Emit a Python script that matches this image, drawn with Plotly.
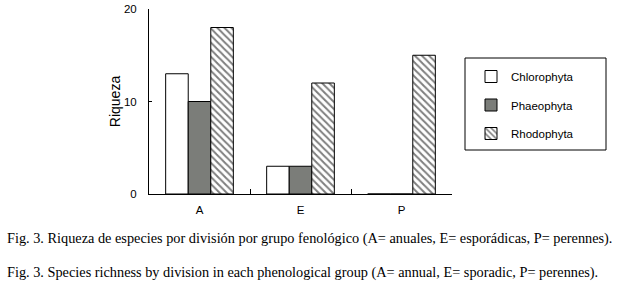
import plotly.graph_objects as go

categories = ["A", "E", "P"]
chlorophyta = [13, 3, 0]
phaeophyta = [10, 3, 0]
rhodophyta = [18, 12, 15]
series_names = ["Chlorophyta", "Phaeophyta", "Rhodophyta"]
y_ticks = [0, 10, 20]
caption_es = "Fig. 3. Riqueza de especies por división por grupo fenológico (A= anuales, E= esporádicas, P= perennes)."
caption_en = "Fig. 3. Species richness by division in each phenological group (A= annual, E= sporadic, P= perennes)."

fig = go.Figure()
fig.add_bar(x=categories, y=chlorophyta, name=series_names[0],
            marker=dict(color="white", line=dict(color="black", width=1)),
            legendgroup="a")
fig.add_bar(x=categories, y=phaeophyta, name=series_names[1],
            marker=dict(color="#7b7d79", line=dict(color="black", width=1)),
            legendgroup="b")
fig.add_bar(x=categories, y=rhodophyta, name=series_names[2],
            marker=dict(color="white", line=dict(color="black", width=1),
                        pattern=dict(shape="\\", fgcolor="black", bgcolor="white",
                                     size=5, solidity=0.4)),
            legendgroup="c")

fig.update_layout(
    width=617, height=288,
    margin=dict(l=149, r=165, t=9, b=94, autoexpand=False),
    paper_bgcolor="white", plot_bgcolor="white",
    barmode="group", bargap=0.33, bargroupgap=0,
    font=dict(family="Liberation Sans, Arial", size=11.5, color="black"),
    showlegend=True,
    legend=dict(x=(471 - 149) / 303, y=(194 - 62) / 185, xanchor="left", yanchor="top",
                tracegroupgap=9.5, font=dict(size=11.5),
                bgcolor="rgba(0,0,0,0)", itemwidth=30),
    xaxis=dict(showline=True, linecolor="black", linewidth=1,
               ticks="inside", ticklen=5, tickson="boundaries",
               tickcolor="black", showgrid=False, ticklabelstandoff=5),
    yaxis=dict(range=[0, 20], tickvals=y_ticks, showline=True, linecolor="black",
               linewidth=1, ticks="inside", ticklen=3, tickcolor="black",
               showgrid=False, zeroline=False, ticklabelstandoff=9,
               title=dict(text="Riqueza", standoff=0)),
)

fig.add_shape(type="rect", xref="paper", yref="paper",
              x0=(465 - 149) / 303, x1=(606 - 149) / 303,
              y0=(194 - 150) / 185, y1=(194 - 58) / 185,
              line=dict(color="black", width=1))

fig.add_annotation(text=caption_es, xref="paper", yref="paper",
                   x=(5 - 149) / 303, y=(194 - 238) / 185, xanchor="left",
                   yanchor="middle", showarrow=False,
                   font=dict(family="Liberation Serif, Times New Roman", size=14.3))
fig.add_annotation(text=caption_en, xref="paper", yref="paper",
                   x=(5 - 149) / 303, y=(194 - 272) / 185, xanchor="left",
                   yanchor="middle", showarrow=False,
                   font=dict(family="Liberation Serif, Times New Roman", size=14.3))

fig.write_html("out.html", config={"displayModeBar": False},
               post_script="document.body.style.margin='0';")
